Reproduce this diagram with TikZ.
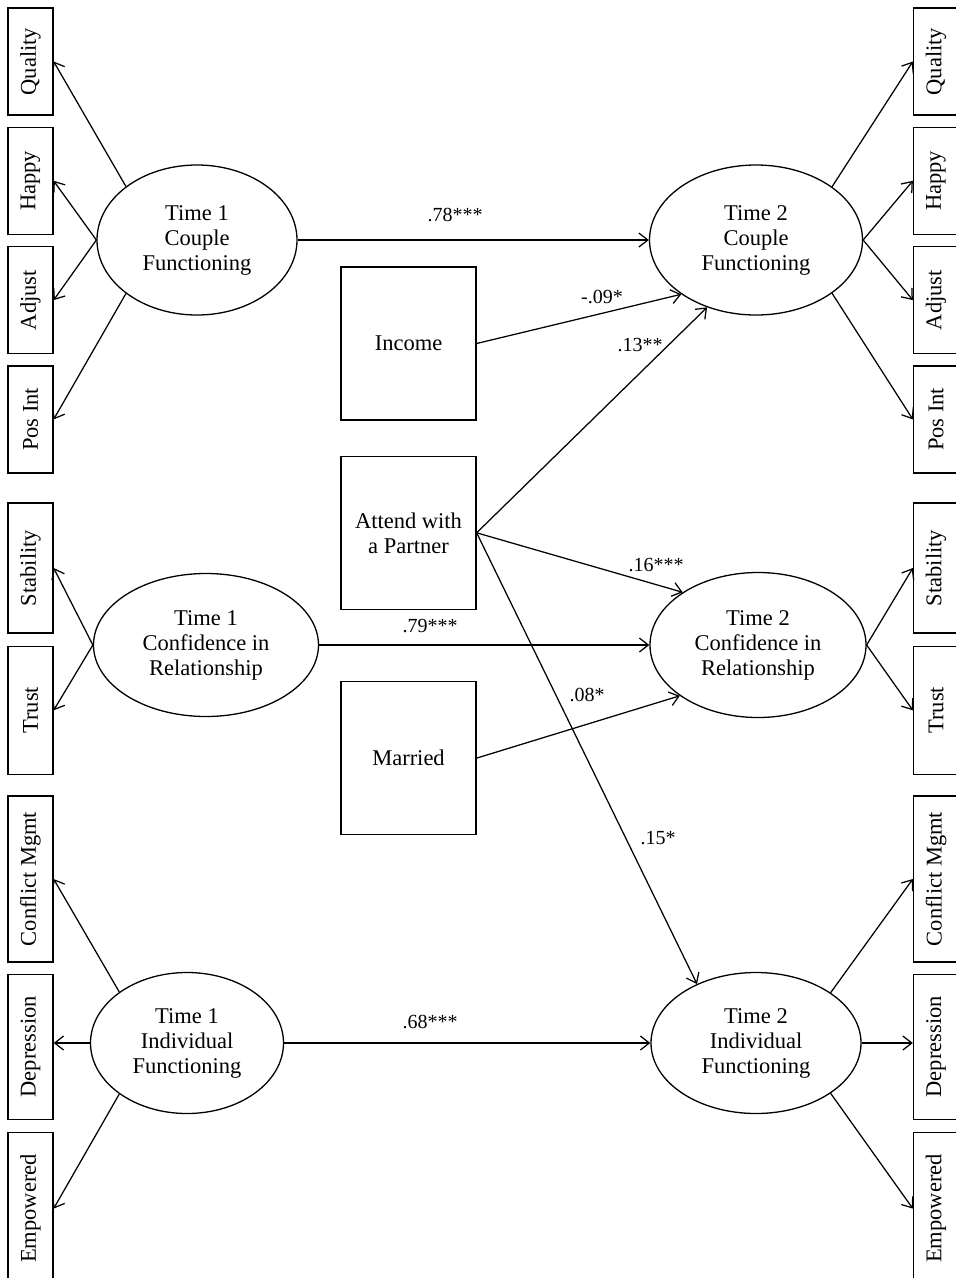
\documentclass[tikz,border=0pt]{standalone}
\usepackage{fontspec}
\setmainfont{Liberation Serif}
\usetikzlibrary{arrows.meta, positioning, shapes.geometric}

\begin{document}
\begin{tikzpicture}[
    x=1pt, y=-1pt,
    node distance=11pt,
    every node/.style={font=\fontsize{22.5}{25}\selectfont, align=center},
    latent/.style={draw, ellipse, line width=1.3pt, inner sep=0pt},
    indicator/.style={draw, line width=1.3pt, inner sep=0pt, minimum width=45pt},
    covar/.style={draw, line width=1.3pt, minimum width=135pt, minimum height=153pt},
    coef/.style={font=\fontsize{20}{24}\selectfont, inner sep=1pt},
    arrow/.style={-{Straight Barb[length=9pt,width=14pt]}, line width=1.25pt}
]

\clip (0,0) rectangle (956,1278);

% Latent constructs
\node[latent, minimum width=200pt, minimum height=150pt] (couple1) at (197,240) {Time 1\\Couple\\Functioning};
\node[latent, minimum width=213pt, minimum height=150pt] (couple2) at (756,240) {Time 2\\Couple\\Functioning};
\node[latent, minimum width=225pt, minimum height=143pt] (conf1) at (206,645) {Time 1\\Confidence in\\Relationship};
\node[latent, minimum width=216pt, minimum height=145pt] (conf2) at (758,645) {Time 2\\Confidence in\\Relationship};
\node[latent, minimum width=193pt, minimum height=141pt] (indiv1) at (187,1043) {Time 1\\Individual\\Functioning};
\node[latent, minimum width=210pt, minimum height=141pt] (indiv2) at (756,1043) {Time 2\\Individual\\Functioning};

% Covariates
\node[covar] (income) at (408.5,343.5) {Income};
\node[covar, below=35pt of income] (attend) {Attend with\\a Partner};
\node[covar, below=71pt of attend] (married) {Married};

% Indicators, Time 1
\node[indicator, minimum height=107pt] (quality1) at (30.5,61.5) {\rotatebox{90}{Quality}};
\node[indicator, minimum height=107pt, below=of quality1] (happy1) {\rotatebox{90}{Happy}};
\node[indicator, minimum height=107pt, below=of happy1] (adjust1) {\rotatebox{90}{Adjust}};
\node[indicator, minimum height=107pt, below=of adjust1] (posint1) {\rotatebox{90}{Pos Int}};
\node[indicator, minimum height=130pt] (stab1) at (30.5,568) {\rotatebox{90}{Stability}};
\node[indicator, minimum height=128pt, below=12pt of stab1] (trust1) {\rotatebox{90}{Trust}};
\node[indicator, minimum height=166pt] (conflict1) at (30.5,879) {\rotatebox{90}{Conflict Mgmt}};
\node[indicator, minimum height=145pt, below=of conflict1] (depress1) {\rotatebox{90}{Depression}};
\node[indicator, minimum height=152pt, below=12pt of depress1] (empower1) {\rotatebox{90}{Empowered}};

% Indicators, Time 2
\node[indicator, minimum height=107pt] (quality2) at (936,61.5) {\rotatebox{90}{Quality}};
\node[indicator, minimum height=107pt, below=of quality2] (happy2) {\rotatebox{90}{Happy}};
\node[indicator, minimum height=107pt, below=of happy2] (adjust2) {\rotatebox{90}{Adjust}};
\node[indicator, minimum height=107pt, below=of adjust2] (posint2) {\rotatebox{90}{Pos Int}};
\node[indicator, minimum height=130pt] (stab2) at (936,568) {\rotatebox{90}{Stability}};
\node[indicator, minimum height=128pt, below=12pt of stab2] (trust2) {\rotatebox{90}{Trust}};
\node[indicator, minimum height=166pt] (conflict2) at (936,879) {\rotatebox{90}{Conflict Mgmt}};
\node[indicator, minimum height=145pt, below=of conflict2] (depress2) {\rotatebox{90}{Depression}};
\node[indicator, minimum height=152pt, below=12pt of depress2] (empower2) {\rotatebox{90}{Empowered}};

% Measurement arrows, Time 1
\draw[arrow] (couple1.143) -- (quality1.east);
\draw[arrow] (couple1.west) -- (happy1.east);
\draw[arrow] (couple1.west) -- (adjust1.east);
\draw[arrow] (couple1.217) -- (posint1.east);
\draw[arrow] (conf1.west) -- (stab1.east);
\draw[arrow] (conf1.west) -- (trust1.east);
\draw[arrow] (indiv1.143) -- (conflict1.east);
\draw[arrow] (indiv1.west) -- (indiv1.west -| depress1.east);
\draw[arrow] (indiv1.217) -- (empower1.east);

% Measurement arrows, Time 2
\draw[arrow] (couple2.35) -- (quality2.west);
\draw[arrow] (couple2.east) -- (happy2.west);
\draw[arrow] (couple2.east) -- (adjust2.west);
\draw[arrow] (couple2.325) -- (posint2.west);
\draw[arrow] (conf2.east) -- (stab2.west);
\draw[arrow] (conf2.east) -- (trust2.west);
\draw[arrow] (indiv2.34) -- (conflict2.west);
\draw[arrow] (indiv2.east) -- (indiv2.east -| depress2.west);
\draw[arrow] (indiv2.326) -- (empower2.west);

% Stability paths
\draw[arrow] (couple1) -- (couple2);
\draw[arrow] (conf1) -- (conf2);
\draw[arrow] (indiv1) -- (indiv2);

% Covariate paths
\draw[arrow] (income.east) -- (couple2.216);
\draw[arrow] (attend.east) -- (couple2.234);
\draw[arrow] (attend.east) -- (conf2.145);
\draw[arrow] (attend.east) -- (indiv2.135);
\draw[arrow] (married.east) -- (conf2.213);

% Coefficients
\node[coef] (c78) at (455,215) {.78***};
\node[coef] (c09) at (602,297) {-.09*};
\node[coef] (c13) at (640,345) {.13**};
\node[coef] (c16) at (656,565) {.16***};
\node[coef] (c79) at (430,626) {.79***};
\node[coef] (c08) at (587,695) {.08*};
\node[coef] (c15) at (658,838) {.15*};
\node[coef] (c68) at (430,1022) {.68***};

\end{tikzpicture}
\end{document}
